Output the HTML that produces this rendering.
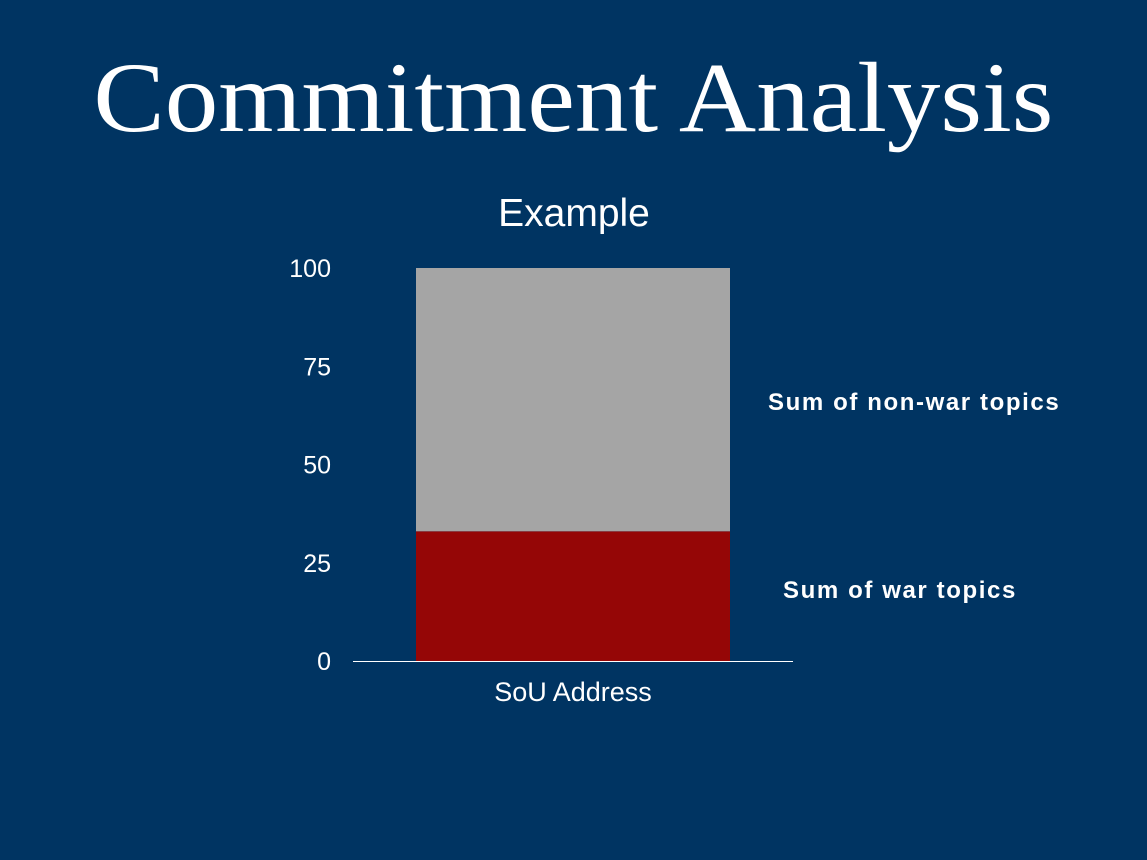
<!DOCTYPE html>
<html><head><meta charset="utf-8"><style>
html,body{margin:0;padding:0;}
body{width:1147px;height:860px;background:#003462;position:relative;overflow:hidden;font-family:"Liberation Sans",sans-serif;color:#fff;}
.t{position:absolute;white-space:nowrap;}
</style></head><body>
<div class="t" style="left:0;width:1147px;text-align:center;top:38px;font-family:'Liberation Serif',serif;font-size:100px;line-height:120px;transform:scaleX(1.07);transform-origin:575px 0;">Commitment Analysis</div>
<div class="t" style="left:424px;width:300px;text-align:center;top:192px;font-size:39px;line-height:44px;">Example</div>
<svg id="chart" width="1147" height="860" style="position:absolute;left:0;top:0"></svg>
<div class="t" style="left:768px;top:389px;font-size:24px;line-height:28px;font-weight:bold;letter-spacing:1.6px;">Sum of non-war topics</div>
<div class="t" style="left:783px;top:577px;font-size:24px;line-height:28px;font-weight:bold;letter-spacing:1.6px;">Sum of war topics</div>
<script>
const categories=["SoU Address"];
const warValues=[33];
const nonWarValues=[67];
const tickLabels=[0,25,50,75,100];
const svg=document.getElementById('chart');
const NS='http://www.w3.org/2000/svg';
const y0=661,yTop=268,yMax=100;
const y=v=>y0-(v/yMax)*(y0-yTop);
const bx0=416,bw=314;
function mk(tag,attrs){const e=document.createElementNS(NS,tag);for(const k in attrs)e.setAttribute(k,attrs[k]);svg.appendChild(e);return e;}
tickLabels.forEach(t=>{
  const e=mk('text',{x:331,y:y(t)+9,'text-anchor':'end',fill:'#fff','font-size':25,'font-family':'Liberation Sans, sans-serif'});
  e.textContent=t;
  
  
});
categories.forEach((c,i)=>{
  const w=warValues[i],n=nonWarValues[i];
  const r1=mk('rect',{x:bx0,y:y(w),width:bw,height:y0-y(w),fill:'#950606'});
  
  
  const r2=mk('rect',{x:bx0,y:y(w+n),width:bw,height:y(w)-y(w+n),fill:'#a5a5a5'});
  
  
  const lab=mk('text',{x:bx0+bw/2,y:701,'text-anchor':'middle',fill:'#fff','font-size':27,'font-family':'Liberation Sans, sans-serif'});
  lab.textContent=c;
  
  
});
const ax=mk('line',{x1:353,x2:793,y1:y0+0.5,y2:y0+0.5,stroke:'#fff','stroke-width':1});


</script>
</body></html>
